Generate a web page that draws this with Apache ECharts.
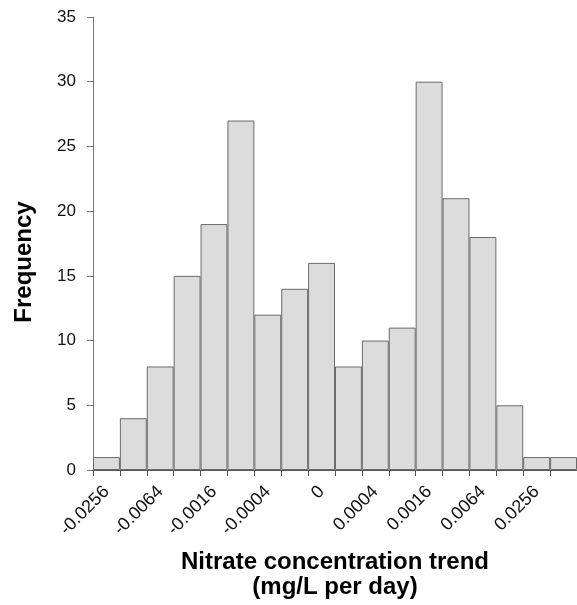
<!DOCTYPE html>
<html>
<head>
<meta charset="utf-8">
<script src="https://cdn.jsdelivr.net/npm/echarts@6/dist/echarts.min.js"></script>
<style>html,body{margin:0;padding:0;background:#fff;}#c{width:577px;height:605px;}</style>
</head>
<body>
<div id="c"></div>
<script>
// 18 histogram bins; labels shown under every other bin
const binIds = ['b0','b1','b2','b3','b4','b5','b6','b7','b8','b9','b10','b11','b12','b13','b14','b15','b16','b17'];
const frequencies = [1, 4, 8, 15, 19, 27, 12, 14, 16, 8, 10, 11, 30, 21, 18, 5, 1, 1];
const tickLabels = ['-0.0256','-0.0064','-0.0016','-0.0004','0','0.0004','0.0016','0.0064','0.0256'];
const yTicks = {min: 0, max: 35, interval: 5};

const chart = echarts.init(document.getElementById('c'), null, {renderer: 'canvas'});
const font = 'Liberation Sans, Arial, sans-serif';
chart.setOption({
  animation: false,
  backgroundColor: '#ffffff',
  grid: {left: 93, right: 0, top: 17, bottom: 135, containLabel: false},
  xAxis: {
    type: 'category',
    data: binIds,
    boundaryGap: true,
    axisLine: {show: true, lineStyle: {color: '#555555', width: 1}},
    axisTick: {show: true, interval: 0, length: 6, lineStyle: {color: '#555555'}},
    axisLabel: {
      interval: 0,
      rotate: 45,
      margin: 19,
      fontSize: 18,
      fontFamily: font,
      color: '#111111',
      formatter: function (v, i) { return i % 2 === 0 ? tickLabels[i / 2] : ''; }
    },
    splitLine: {show: false}
  },
  yAxis: {
    type: 'value',
    min: yTicks.min, max: yTicks.max, interval: yTicks.interval,
    axisLine: {show: true, lineStyle: {color: '#777777', width: 1}},
    axisTick: {show: true, length: 6, lineStyle: {color: '#777777'}},
    axisLabel: {margin: 17, fontSize: 17, fontFamily: font, color: '#111111'},
    splitLine: {show: false}
  },
  series: [{
    type: 'bar',
    data: frequencies,
    barCategoryGap: '0%',
    itemStyle: {color: '#dcdcdc', borderColor: '#6a6a6a', borderWidth: 1}
  }],
  graphic: [
    {type: 'text', x: 24, y: 262, rotation: Math.PI / 2,
     style: {text: 'Frequency', font: 'bold 24px ' + font, fill: '#000', textAlign: 'center', textVerticalAlign: 'middle'}},
    {type: 'text', x: 335, y: 562,
     style: {text: 'Nitrate concentration trend', font: 'bold 24px ' + font, fill: '#000', textAlign: 'center', textVerticalAlign: 'middle'}},
    {type: 'text', x: 335, y: 587,
     style: {text: '(mg/L per day)', font: 'bold 24px ' + font, fill: '#000', textAlign: 'center', textVerticalAlign: 'middle'}}
  ]
});
</script>
</body>
</html>
